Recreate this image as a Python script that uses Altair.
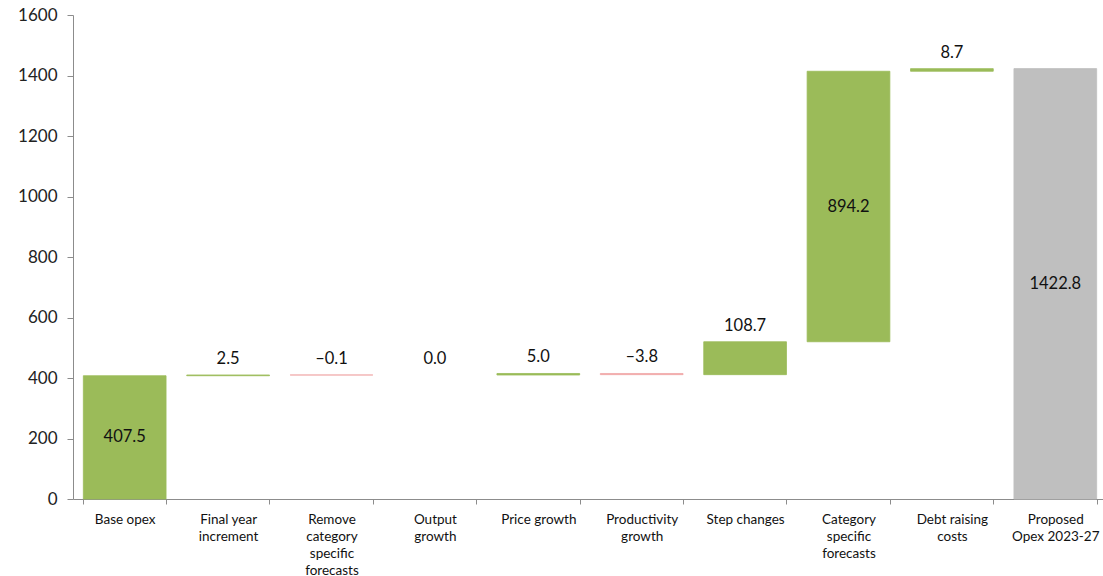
import altair as alt
import pandas as pd

categories = ["Base opex", "Final year\nincrement", "Remove\ncategory\nspecific\nforecasts",
              "Output\ngrowth", "Price growth", "Productivity\ngrowth", "Step changes",
              "Category\nspecific\nforecasts", "Debt raising\ncosts", "Proposed\nOpex 2023-27"]
values = [407.5, 2.5, -0.1, 0.0, 5.0, -3.8, 108.7, 894.2, 8.7, 1422.8]
labels = ["407.5", "2.5", "–0.1", "0.0", "5.0", "–3.8", "108.7", "894.2", "8.7", "1422.8"]
kinds = ["base", "delta", "delta", "delta", "delta", "delta", "delta", "delta", "delta", "total"]

rows = []
running = 0.0
for cat, v, lab, k in zip(categories, values, labels, kinds):
    if k == "base":
        start, end = 0.0, v
        running = v
    elif k == "total":
        start, end = 0.0, v
    else:
        start, end = running, running + v
        running = end
    color = "total" if k == "total" else ("neg" if v < 0 else "pos")
    top = max(start, end)
    inside = abs(v) > 300
    rows.append(dict(cat=cat, start=start, end=end, label=lab, color=color,
                     top=top, mid=(start + end) / 2, inside=inside, nonzero=(v != 0)))
df = pd.DataFrame(rows)

FONT = "Lato"
cscale = alt.Scale(domain=["pos", "neg", "total"], range=["#9BBB59", "#F0A8A8", "#BFBFBF"])
xenc = alt.X("cat:N", sort=categories,
             scale=alt.Scale(paddingInner=0.2, paddingOuter=0.1, range=[0, 1034]),
             axis=alt.Axis(title=None, labelAngle=0, labelExpr="split(datum.label, '\\n')",
                           labelFontSize=13.5, labelColor="#111", labelFont=FONT,
                           labelLineHeight=17, labelPadding=8, labelBaseline="top",
                           tickBand="extent", tickSize=5, tickColor="#8c8c8c",
                           domainColor="#8c8c8c"))

bars = alt.Chart(df).mark_bar().encode(
    x=xenc,
    y=alt.Y("start:Q", scale=alt.Scale(domain=[0, 1600]),
            axis=alt.Axis(title=None, values=list(range(0, 1601, 200)), grid=False, format="d",
                          labelFontSize=17, labelColor="#222", labelFont=FONT,
                          tickSize=6, tickColor="#8c8c8c", domainColor="#8c8c8c",
                          labelPadding=10)),
    y2="end:Q",
    color=alt.Color("color:N", scale=cscale, legend=None),
    stroke=alt.Stroke("color:N", scale=cscale, legend=None),
    strokeWidth=alt.condition("datum.nonzero", alt.value(0.8), alt.value(0)),
)

inside_text = alt.Chart(df).transform_filter("datum.inside").mark_text(
    fontSize=16.5, font=FONT, color="#111", baseline="middle").encode(
    x=alt.X("cat:N", sort=categories), y="mid:Q", text="label:N")

above_text = alt.Chart(df).transform_filter("!datum.inside").mark_text(
    fontSize=16.5, font=FONT, color="#111", baseline="bottom", dy=-8).encode(
    x=alt.X("cat:N", sort=categories), y="top:Q", text="label:N")

chart = alt.layer(bars, inside_text, above_text).properties(
    width=1030, height=484, background="white",
    padding={"left": 73, "top": 15, "right": 0, "bottom": 77},
    autosize=alt.AutoSizeParams(type="none"),
).configure_view(stroke=None)

chart.save("out.html", embed_options={"renderer": "svg", "actions": False})
